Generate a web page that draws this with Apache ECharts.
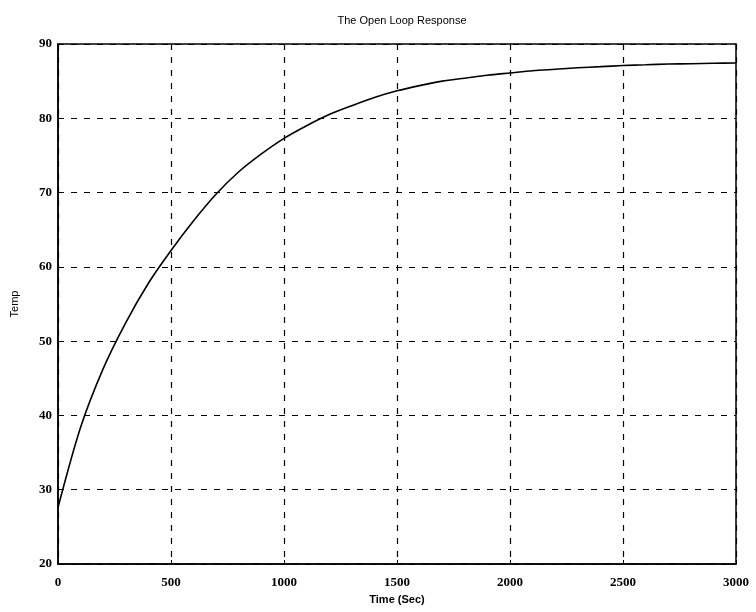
<!DOCTYPE html>
<html>
<head>
<meta charset="utf-8">
<script src="https://cdn.jsdelivr.net/npm/echarts@6/dist/echarts.min.js"></script>
<style>html,body{margin:0;padding:0;background:#fff}#c{width:756px;height:612px}</style>
</head>
<body>
<div id="c"></div>
<script>
const timeSec = [0,100,200,300,400,500,600,700,800,900,1000,1100,1200,1300,1400,1500,1600,1700,1800,1900,2000,2100,2200,2300,2400,2500,2600,2700,2800,2900,3000];
const temp = [27.6,38.4,46.3,52.5,57.8,62.2,66.2,69.8,72.8,75.2,77.3,79.0,80.5,81.7,82.8,83.7,84.4,85.0,85.4,85.8,86.1,86.4,86.6,86.8,86.95,87.1,87.2,87.3,87.35,87.4,87.45];
const xTicks = [0,500,1000,1500,2000,2500,3000];
const yTicks = [20,30,40,50,60,70,80,90];

const chart = echarts.init(document.getElementById('c'), null, {renderer:'canvas'});
const tickFont = {color:'#000', fontFamily:'Liberation Serif', fontWeight:'bold', fontSize:13};
chart.setOption({
  animation:false,
  backgroundColor:'#fff',
  title:{text:'The Open Loop Response', left:397, top:10, textAlign:'center',
    textStyle:{fontFamily:'Liberation Sans', fontSize:11, fontWeight:'normal', color:'#000'}},
  grid:{left:58, right:20, top:44, bottom:48, show:true, borderColor:'#000', borderWidth:1.5},
  xAxis:{type:'value', min:xTicks[0], max:xTicks[xTicks.length-1], interval:500,
    name:'Time (Sec)', nameLocation:'middle', nameGap:30,
    nameTextStyle:{fontFamily:'Liberation Sans', fontSize:11, fontWeight:'bold', color:'#000'},
    axisLine:{show:true, lineStyle:{color:'#000', width:1.5}},
    axisTick:{show:true, inside:true, length:4, lineStyle:{color:'#000'}},
    axisLabel:Object.assign({margin:12, formatter:v=>String(v)}, tickFont),
    splitLine:{show:true, lineStyle:{color:'#000', type:[6,7], width:1.2}}},
  yAxis:{type:'value', min:yTicks[0], max:yTicks[yTicks.length-1], interval:10,
    name:'Temp', nameLocation:'middle', nameGap:38, nameRotate:90,
    nameTextStyle:{fontFamily:'Liberation Sans', fontSize:11, color:'#000'},
    axisLine:{show:true, lineStyle:{color:'#000', width:1.5}},
    axisTick:{show:true, inside:true, length:4, lineStyle:{color:'#000'}},
    axisLabel:Object.assign({margin:6, formatter:v=>String(v)}, tickFont),
    splitLine:{show:true, lineStyle:{color:'#000', type:[6,7], width:1.2}}},
  series:[{type:'line', data:timeSec.map((t,i)=>[t,temp[i]]), smooth:0.3, symbol:'none',
    lineStyle:{color:'#000', width:1.6}}]
});
</script>
</body>
</html>
